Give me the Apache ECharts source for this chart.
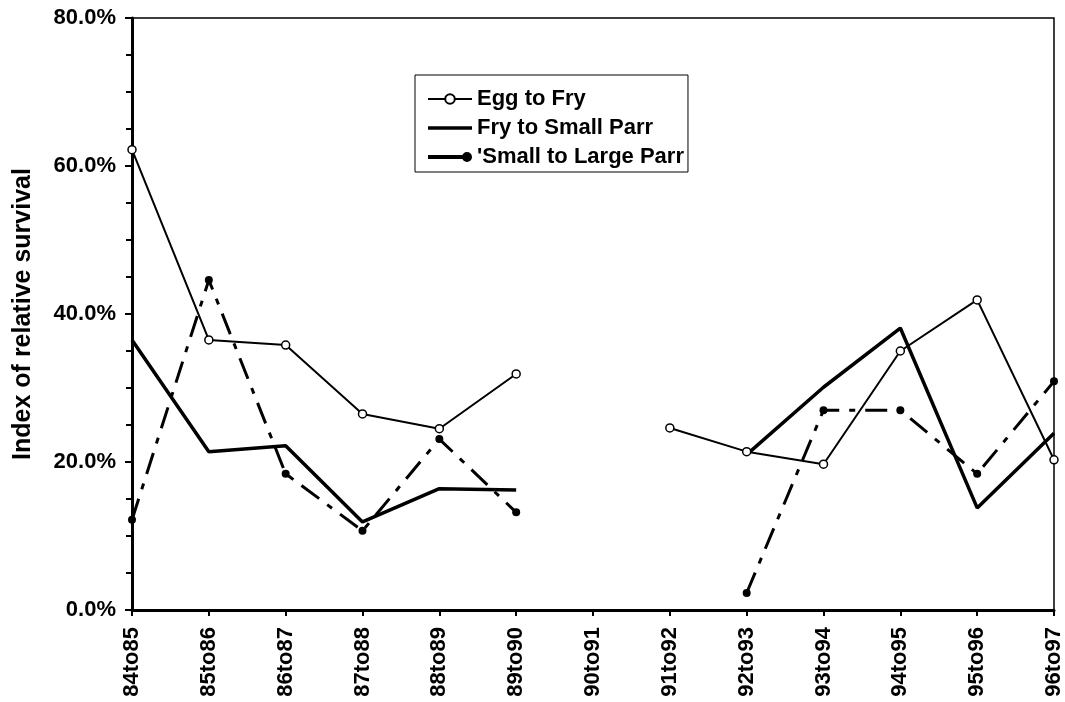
<!DOCTYPE html>
<html>
<head>
<meta charset="utf-8">
<script src="https://cdn.jsdelivr.net/npm/echarts@6/dist/echarts.min.js"></script>
<style>
html,body{margin:0;padding:0;background:#fff;}
#c{width:1065px;height:702px;}
</style>
</head>
<body>
<div id="c"></div>
<script>
var categories = ['84to85','85to86','86to87','87to88','88to89','89to90','90to91','91to92','92to93','93to94','94to95','95to96','96to97'];
var eggToFry = [62.2, 36.5, 35.8, 26.5, 24.5, 31.9, null, 24.6, 21.4, 19.7, 35.0, 41.9, 20.3];
var fryToSmallParr = [36.5, 21.4, 22.2, 11.9, 16.4, 16.2, null, null, 21.0, 30.1, 38.1, 13.8, 23.9];
var smallToLargeParr = [12.2, 44.6, 18.4, 10.7, 23.1, 13.2, null, null, 2.3, 27.0, 27.0, 18.4, 30.9];
var seriesNames = ['Egg to Fry', 'Fry to Small Parr', "'Small to Large Parr"];
var yTicks = [0, 20, 40, 60, 80];

var font = 'Liberation Sans, Arial, sans-serif';
var chart = echarts.init(document.getElementById('c'));
chart.setOption({
  animation: false,
  backgroundColor: '#fff',
  grid: {left: 132, right: 9, top: 18, bottom: 92, show: true, borderColor: '#000', borderWidth: 1.5, backgroundColor: 'transparent'},
  legend: {
    orient: 'vertical', left: 415, top: 75,
    borderColor: '#000', borderWidth: 1, padding: [13, 4, 4, 12],
    itemGap: 7, itemWidth: 44, itemHeight: 12, symbolKeepAspect: true,
    textStyle: {fontFamily: font, fontWeight: 'bold', fontSize: 22, lineHeight: 22, color: '#000'},
    data: [
      {name: seriesNames[0]},
      {name: seriesNames[1], icon: 'path://M0,0L44,0L44,3.5L0,3.5Z', itemStyle: {color: '#000', borderWidth: 0}},
      {name: seriesNames[2], icon: 'path://M0,3L37,3L37,7L0,7Z M34,5a5,5 0 1,1 10,0a5,5 0 1,1 -10,0Z', itemStyle: {color: '#000', borderWidth: 0}}
    ]
  },
  xAxis: {
    type: 'category', data: categories, boundaryGap: false,
    axisLine: {lineStyle: {color: '#000', width: 3}},
    axisTick: {show: true, inside: false, length: 6, lineStyle: {color: '#000', width: 2}},
    axisLabel: {rotate: 90, interval: 0, margin: 17, color: '#000', fontFamily: font, fontWeight: 'bold', fontSize: 22},
    splitLine: {show: false}
  },
  yAxis: {
    type: 'value', min: yTicks[0], max: yTicks[yTicks.length-1], interval: 20,
    axisLine: {show: true, lineStyle: {color: '#000', width: 3}},
    axisTick: {show: true, inside: false, length: 7, lineStyle: {color: '#000', width: 2}},
    minorTick: {show: true, splitNumber: 4, length: 6, lineStyle: {color: '#000', width: 2}},
    axisLabel: {color: '#000', fontFamily: font, fontWeight: 'bold', fontSize: 22, margin: 16,
      formatter: function(v){ return v.toFixed(1) + '%'; }},
    splitLine: {show: false},
    name: 'Index of relative survival', nameLocation: 'middle', nameGap: 96, nameRotate: 90,
    nameTextStyle: {color: '#000', fontFamily: font, fontWeight: 'bold', fontSize: 25}
  },
  series: [
    {
      name: seriesNames[0], type: 'line', data: eggToFry, connectNulls: false,
      symbol: 'circle', symbolSize: 8, showAllSymbol: true,
      itemStyle: {color: '#fff', borderColor: '#000', borderWidth: 1.5},
      lineStyle: {color: '#000', width: 2}, z: 3
    },
    {
      name: seriesNames[1], type: 'line', data: fryToSmallParr, connectNulls: false,
      symbol: 'none',
      itemStyle: {color: '#000'},
      lineStyle: {color: '#000', width: 3.5}, z: 2
    },
    {
      name: seriesNames[2], type: 'line', data: smallToLargeParr, connectNulls: false,
      symbol: 'circle', symbolSize: 8, showAllSymbol: true,
      itemStyle: {color: '#000', borderColor: '#000', borderWidth: 0},
      lineStyle: {color: '#000', width: 3, type: [22, 10, 6, 10]}, z: 2
    }
  ]
});
</script>
</body>
</html>
